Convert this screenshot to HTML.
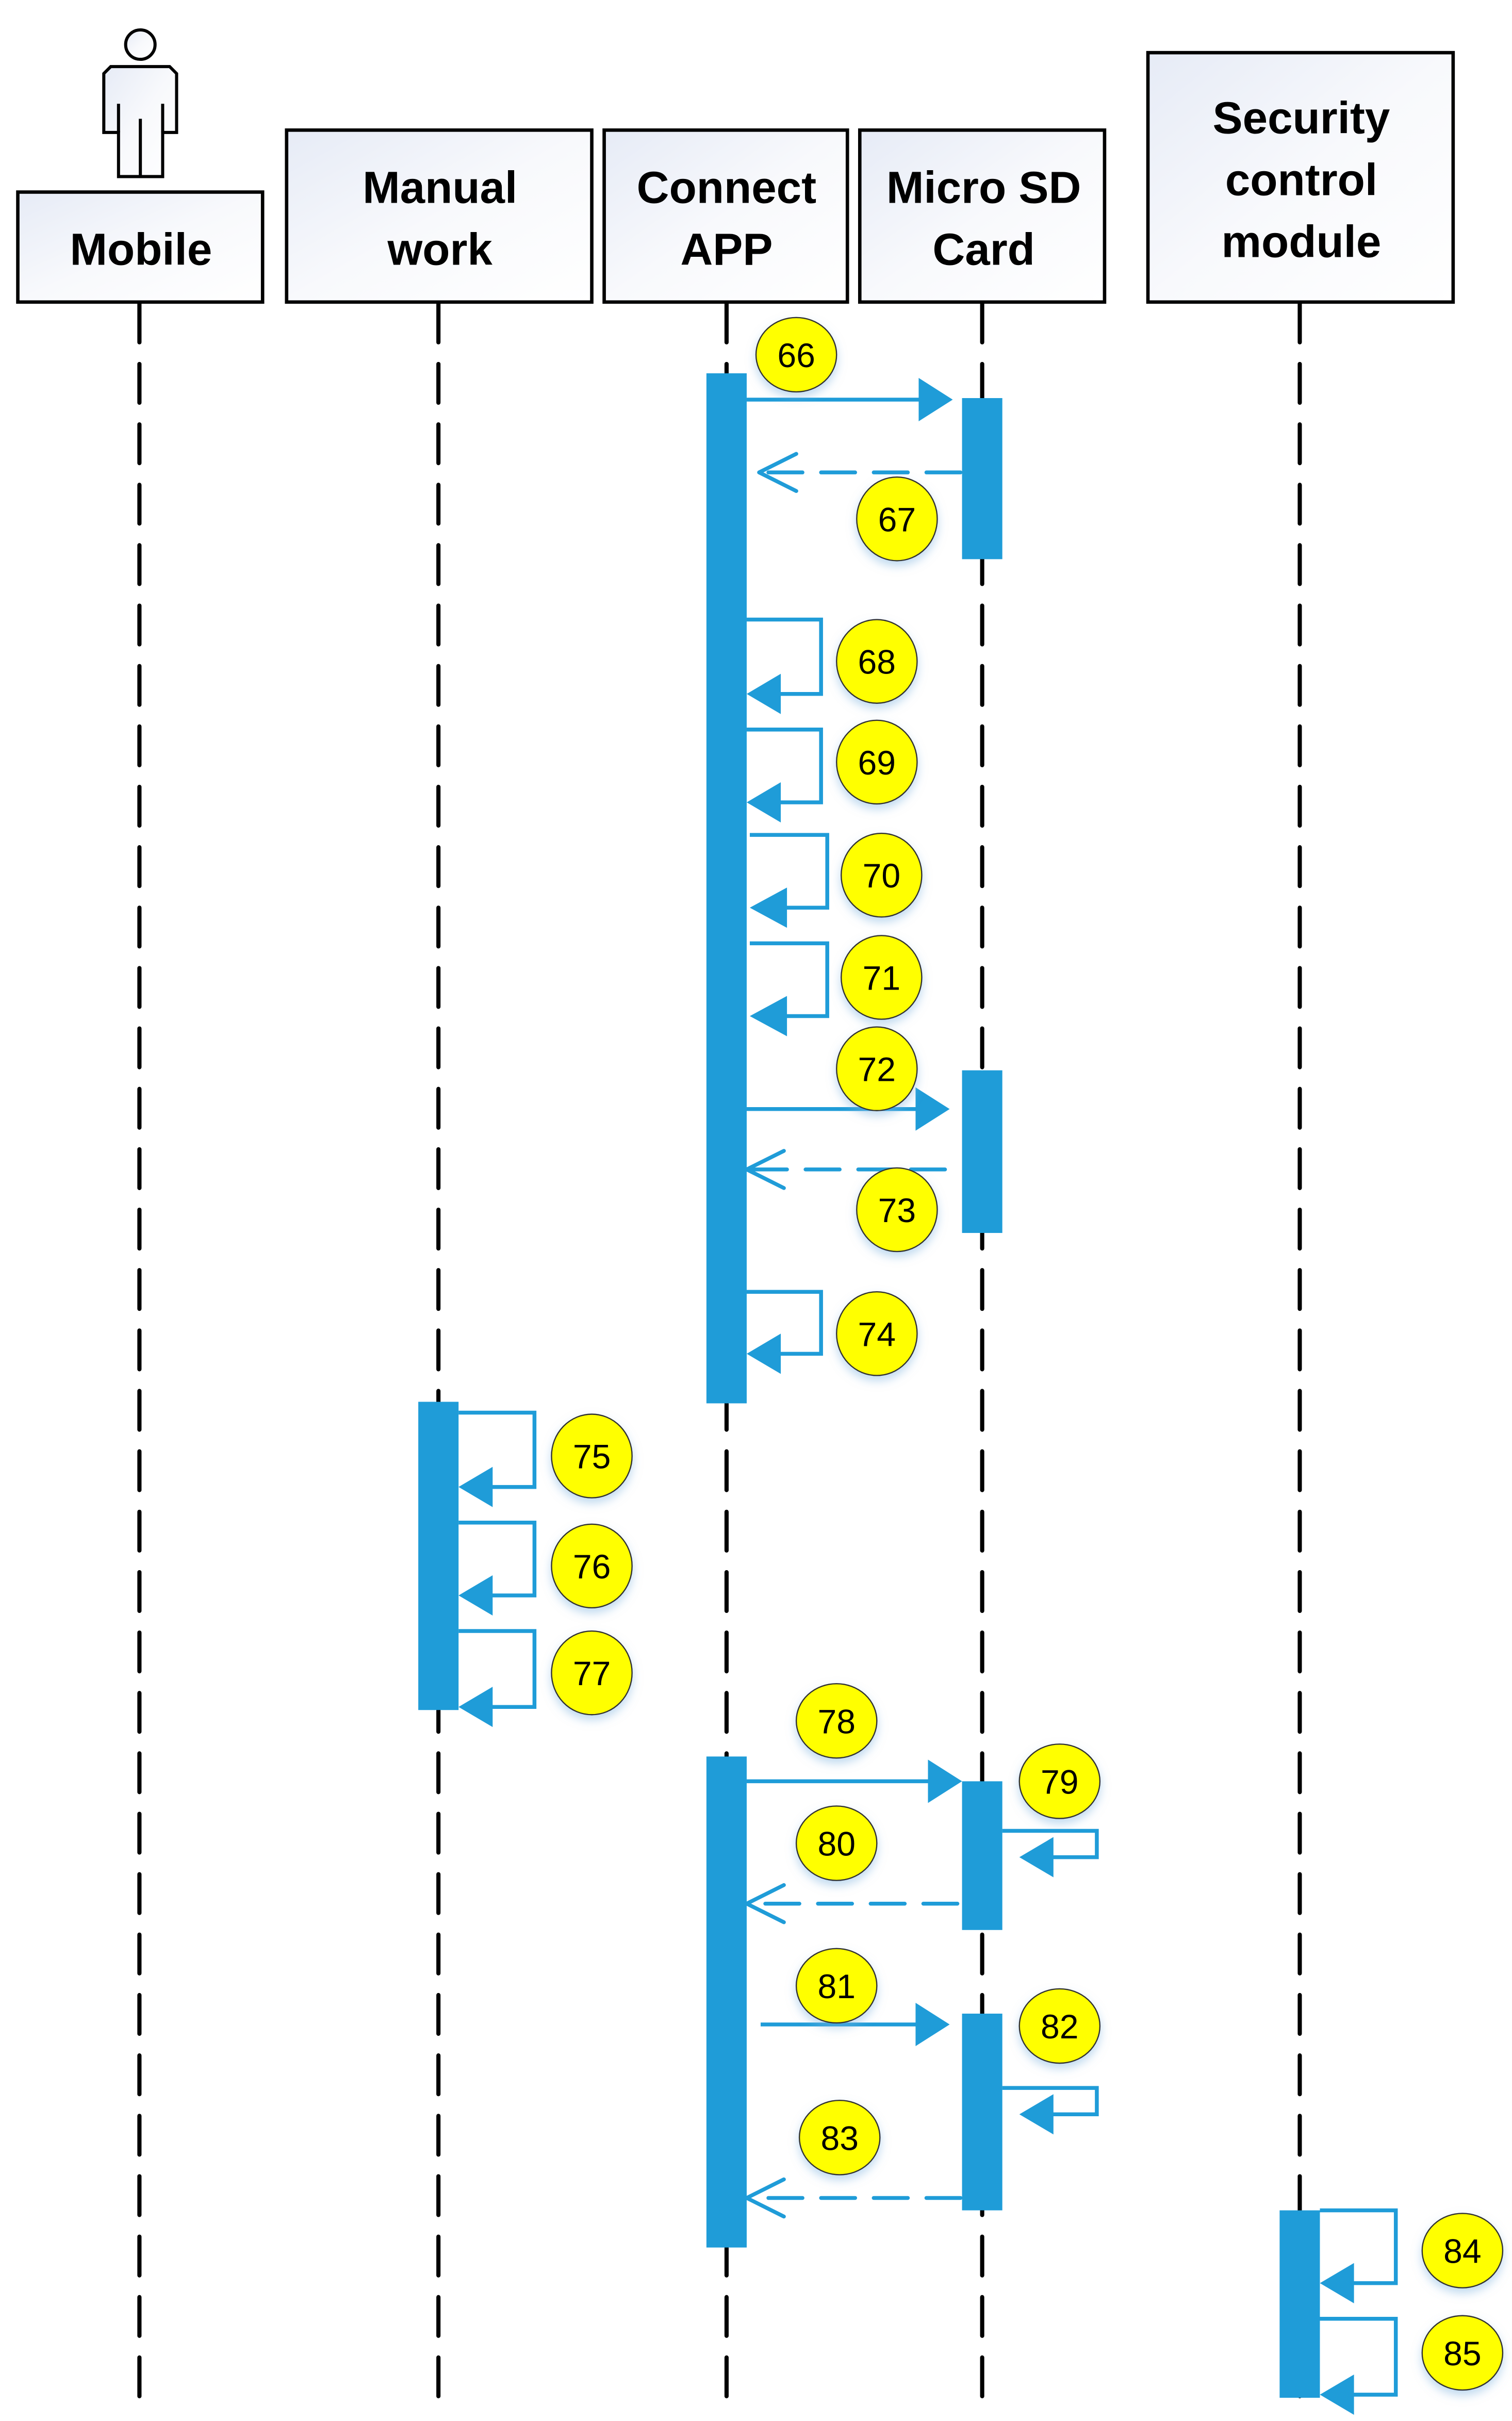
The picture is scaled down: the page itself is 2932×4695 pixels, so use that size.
<!DOCTYPE html>
<html><head><meta charset="utf-8"><style>
html,body{margin:0;padding:0;background:#fff;}
svg{display:block;}
text{font-family:"Liberation Sans",sans-serif;}
</style></head><body>
<svg width="2932" height="4695" viewBox="0 0 976 1563" preserveAspectRatio="none" xmlns="http://www.w3.org/2000/svg">
<defs>
<linearGradient id="g" x1="0" y1="0" x2="1" y2="1"><stop offset="0" stop-color="#e6ebf6"/><stop offset="0.5" stop-color="#f8f9fc"/><stop offset="1" stop-color="#fff"/></linearGradient>
<filter id="sh" x="-30%" y="-30%" width="160%" height="170%"><feDropShadow dx="0" dy="3" stdDeviation="3" flood-color="#7fb4e0" flood-opacity="0.5"/></filter>
</defs>
<!-- lifelines -->
<g stroke="#000" stroke-width="2.7" stroke-dasharray="25 14" stroke-linecap="round">
<line x1="90" y1="196" x2="90" y2="1548"/>
<line x1="283" y1="196" x2="283" y2="1548"/>
<line x1="469" y1="196" x2="469" y2="1548"/>
<line x1="634" y1="196" x2="634" y2="1548"/>
<line x1="839" y1="196" x2="839" y2="1548"/>
</g>
<!-- actor -->
<g stroke="#000" stroke-width="2" fill="url(#g)">
<circle cx="90.6" cy="28.8" r="9.5"/>
<path d="M71.5 43 H109.5 L114 47.5 V85.5 H105 V114 H76.5 V85.5 H67 V47.5 Z"/>
<path d="M76.5 67 V85.5 M105 67 V85.5 M90.6 76.7 V114" fill="none"/>
</g>
<!-- header boxes -->
<g stroke="#000" stroke-width="2.2" fill="url(#g)">
<rect x="11.5" y="124" width="158" height="71"/>
<rect x="185" y="84" width="197" height="111"/>
<rect x="390" y="84" width="157" height="111"/>
<rect x="555" y="84" width="158" height="111"/>
<rect x="741" y="34" width="197" height="161"/>
</g>
<g font-size="29" font-weight="bold" text-anchor="middle" fill="#000">
<text x="91" y="171">Mobile</text>
<text x="284" y="131">Manual</text><text x="284" y="171">work</text>
<text x="469" y="131">Connect</text><text x="469" y="171">APP</text>
<text x="635" y="131">Micro SD</text><text x="635" y="171">Card</text>
<text x="840" y="86">Security</text><text x="840" y="126">control</text><text x="840" y="166">module</text>
</g>
<!-- activation bars -->
<g fill="#1f9cd8">
<rect x="456" y="241" width="26" height="665"/>
<rect x="621" y="257" width="26" height="104"/>
<rect x="621" y="691" width="26" height="105"/>
<rect x="270" y="905" width="26" height="199"/>
<rect x="456" y="1134" width="26" height="317"/>
<rect x="621" y="1150" width="26" height="96"/>
<rect x="621" y="1300" width="26" height="127"/>
<rect x="826" y="1427" width="26" height="121"/>
</g>
<!-- messages -->
<g stroke="#1f9cd8" stroke-width="2.5" fill="none">
<line x1="482" y1="258" x2="595" y2="258"/>
<line x1="482" y1="716" x2="593" y2="716"/>
<line x1="482" y1="1150" x2="600" y2="1150"/>
<line x1="491" y1="1307" x2="593" y2="1307"/>
<g stroke-dasharray="22 12" stroke-linecap="round">
<line x1="620" y1="305" x2="494" y2="305"/>
<line x1="610" y1="755" x2="485" y2="755"/>
<line x1="618" y1="1229" x2="485" y2="1229"/>
<line x1="620" y1="1419" x2="485" y2="1419"/>
</g>
<g stroke-linecap="round" stroke-linejoin="round">
<path d="M514 293 L490 305 L514 317"/>
<path d="M506 743 L482 755 L506 767"/>
<path d="M506 1217 L482 1229 L506 1241"/>
<path d="M506 1407 L482 1419 L506 1431"/>
</g>
<path d="M482 400 H530 V448 H500"/>
<path d="M482 471 H530 V518 H500"/>
<path d="M484 539 H534 V586 H504"/>
<path d="M484 609 H534 V656 H504"/>
<path d="M482 834 H530 V874 H500"/>
<path d="M296 912 H345 V960 H316"/>
<path d="M296 983 H345 V1030 H316"/>
<path d="M296 1053 H345 V1102 H316"/>
<path d="M647 1182 H708 V1199 H678"/>
<path d="M647 1348 H708 V1365 H678"/>
<path d="M852 1427 H901 V1474 H872"/>
<path d="M852 1497 H901 V1546 H872"/>
</g>
<g fill="#1f9cd8">
<polygon points="615,258 593,244 593,272"/>
<polygon points="613,716 591,702 591,730"/>
<polygon points="621,1150 599,1136 599,1164"/>
<polygon points="613,1307 591,1293 591,1321"/>
<polygon points="482,448 504,435 504,461"/>
<polygon points="482,518 504,505 504,531"/>
<polygon points="484,586 508,573 508,599"/>
<polygon points="484,656 508,643 508,669"/>
<polygon points="482,874 504,861 504,887"/>
<polygon points="296,960 318,947 318,973"/>
<polygon points="296,1030 318,1017 318,1043"/>
<polygon points="296,1102 318,1089 318,1115"/>
<polygon points="658,1199 680,1186 680,1212"/>
<polygon points="658,1365 680,1352 680,1378"/>
<polygon points="852,1474 874,1461 874,1487"/>
<polygon points="852,1546 874,1533 874,1559"/>
</g>
<!-- number bubbles -->
<g fill="#ffff00" stroke="#333" stroke-width="0.8" filter="url(#sh)">
<ellipse cx="514" cy="229" rx="26" ry="24"/>
<ellipse cx="579" cy="335" rx="26" ry="27"/>
<ellipse cx="566" cy="427" rx="26" ry="27"/>
<ellipse cx="566" cy="492" rx="26" ry="27"/>
<ellipse cx="569" cy="565" rx="26" ry="27"/>
<ellipse cx="569" cy="631" rx="26" ry="27"/>
<ellipse cx="566" cy="690" rx="26" ry="27"/>
<ellipse cx="579" cy="781" rx="26" ry="27"/>
<ellipse cx="566" cy="861" rx="26" ry="27"/>
<ellipse cx="382" cy="940" rx="26" ry="27"/>
<ellipse cx="382" cy="1011" rx="26" ry="27"/>
<ellipse cx="382" cy="1080" rx="26" ry="27"/>
<ellipse cx="540" cy="1111" rx="26" ry="24"/>
<ellipse cx="684" cy="1150" rx="26" ry="24"/>
<ellipse cx="540" cy="1190" rx="26" ry="24"/>
<ellipse cx="540" cy="1282" rx="26" ry="24"/>
<ellipse cx="684" cy="1308" rx="26" ry="24"/>
<ellipse cx="542" cy="1380" rx="26" ry="24"/>
<ellipse cx="944" cy="1453" rx="26" ry="24"/>
<ellipse cx="944" cy="1519" rx="26" ry="24"/>
</g>
<g font-size="22" text-anchor="middle" fill="#000">
<text x="514" y="237">66</text>
<text x="579" y="343">67</text>
<text x="566" y="435">68</text>
<text x="566" y="500">69</text>
<text x="569" y="573">70</text>
<text x="569" y="639">71</text>
<text x="566" y="698">72</text>
<text x="579" y="789">73</text>
<text x="566" y="869">74</text>
<text x="382" y="948">75</text>
<text x="382" y="1019">76</text>
<text x="382" y="1088">77</text>
<text x="540" y="1119">78</text>
<text x="684" y="1158">79</text>
<text x="540" y="1198">80</text>
<text x="540" y="1290">81</text>
<text x="684" y="1316">82</text>
<text x="542" y="1388">83</text>
<text x="944" y="1461">84</text>
<text x="944" y="1527">85</text>
</g>
</svg>
</body></html>
